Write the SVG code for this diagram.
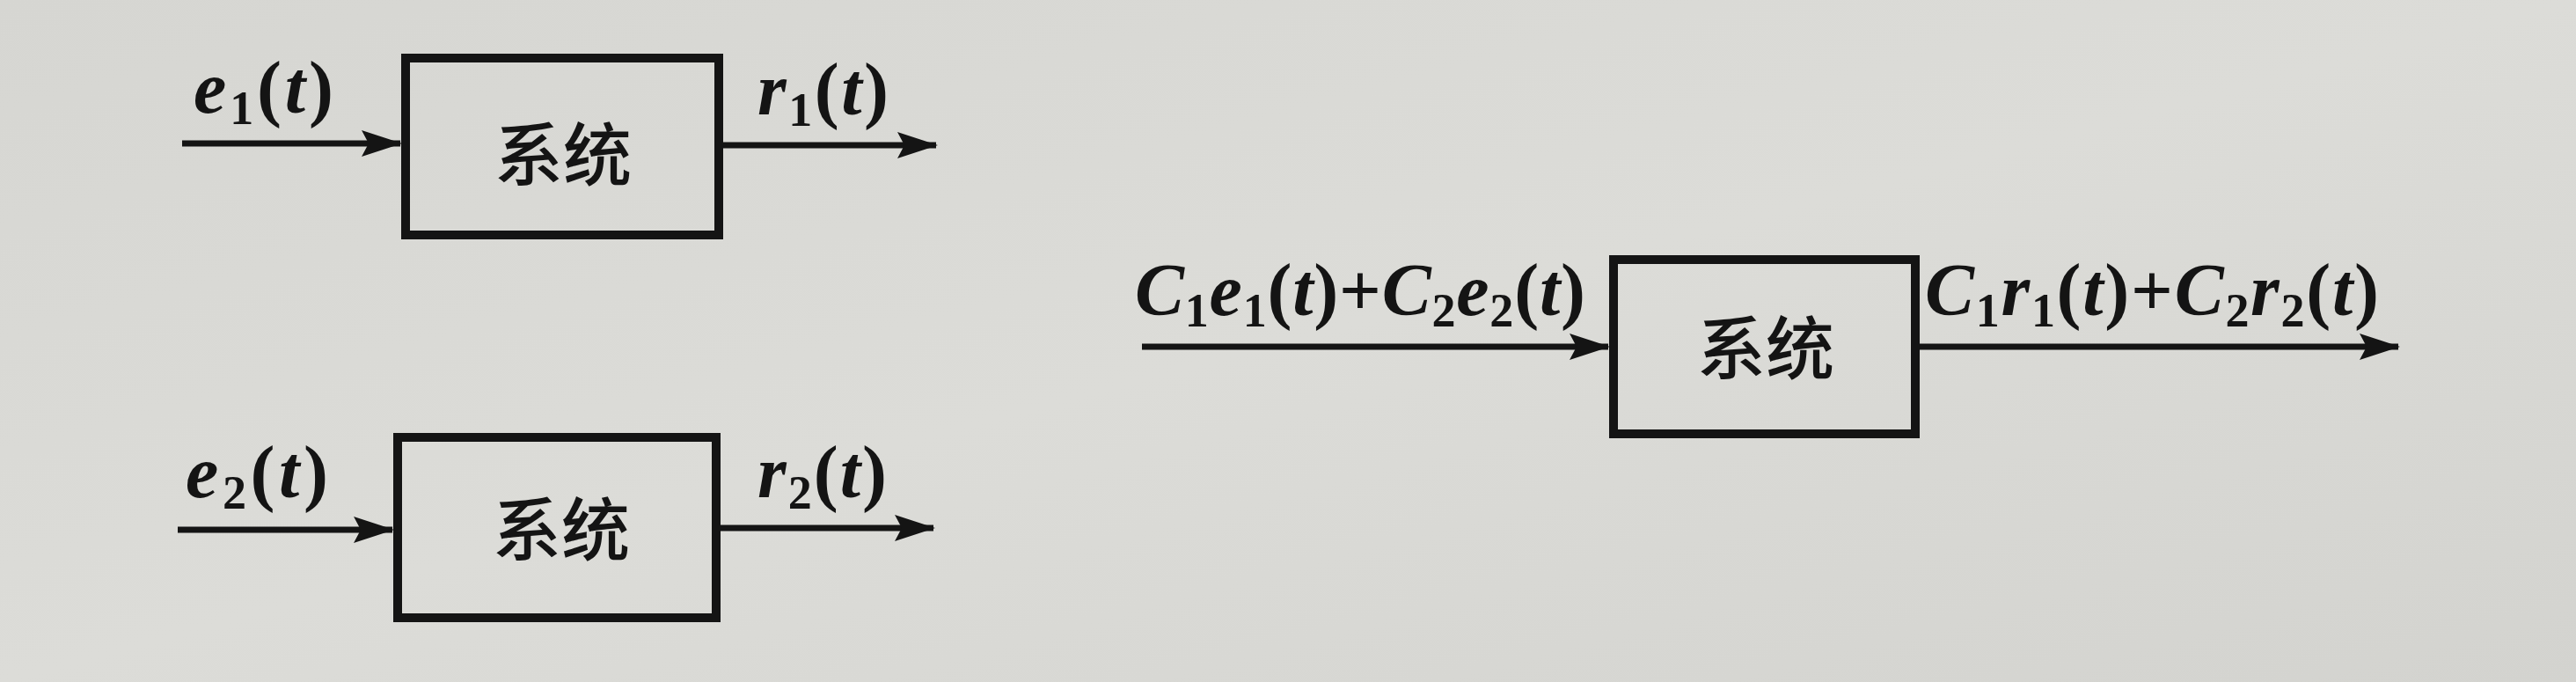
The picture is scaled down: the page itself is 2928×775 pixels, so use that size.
<svg xmlns="http://www.w3.org/2000/svg" width="2928" height="775" viewBox="0 0 2928 775">
<style>
.box{fill:none;stroke:#141414;stroke-width:10}
.wire{stroke:#141414;stroke-width:7;fill:none}
.lbl{font-family:"Liberation Serif","Times New Roman",serif;font-size:84px;font-weight:bold;fill:#141414}
.it{font-style:italic}
.sub{font-size:54px}
.cn{font-family:"Noto Sans CJK SC","Noto Sans",sans-serif;font-size:78px;font-weight:500;fill:#141414;text-anchor:middle}
</style>
<defs>
<marker id="ah" markerUnits="userSpaceOnUse" markerWidth="46" markerHeight="30" refX="44" refY="15" orient="auto">
<path d="M0,0 L46,15 L0,30 L8,15 Z" fill="#141414"/>
</marker>
<linearGradient id="bg" x1="0" y1="0" x2="1" y2="1">
<stop offset="0" stop-color="#d6d6d2"/>
<stop offset="0.5" stop-color="#dcdcd8"/>
<stop offset="1" stop-color="#d3d3cf"/>
</linearGradient>
</defs>
<rect width="2928" height="775" fill="url(#bg)"/>
<g id="connectors">
<line class="wire" x1="207" y1="163" x2="455" y2="163" marker-end="url(#ah)"/>
<line class="wire" x1="822" y1="165" x2="1064" y2="165" marker-end="url(#ah)"/>
<line class="wire" x1="202" y1="602" x2="446" y2="602" marker-end="url(#ah)"/>
<line class="wire" x1="818" y1="600" x2="1061" y2="600" marker-end="url(#ah)"/>
<line class="wire" x1="1298" y1="394" x2="1828" y2="394" marker-end="url(#ah)"/>
<line class="wire" x1="2181" y1="394" x2="2726" y2="394" marker-end="url(#ah)"/>
</g>
<g id="labels">
<text class="lbl" x="220" y="128" textLength="159" lengthAdjust="spacing"><tspan class="it">e</tspan><tspan class="sub" dy="13">1</tspan><tspan dy="-13">(</tspan><tspan class="it">t</tspan>)</text>
<text class="lbl" x="861" y="130" textLength="149" lengthAdjust="spacing"><tspan class="it">r</tspan><tspan class="sub" dy="13">1</tspan><tspan dy="-13">(</tspan><tspan class="it">t</tspan>)</text>
<text class="lbl" x="211" y="565" textLength="162" lengthAdjust="spacing"><tspan class="it">e</tspan><tspan class="sub" dy="13">2</tspan><tspan dy="-13">(</tspan><tspan class="it">t</tspan>)</text>
<text class="lbl" x="861" y="565" textLength="147" lengthAdjust="spacing"><tspan class="it">r</tspan><tspan class="sub" dy="13">2</tspan><tspan dy="-13">(</tspan><tspan class="it">t</tspan>)</text>
<text class="lbl" x="1290" y="358" textLength="512" lengthAdjust="spacing"><tspan class="it">C</tspan><tspan class="sub" dy="13">1</tspan><tspan class="it" dy="-13">e</tspan><tspan class="sub" dy="13">1</tspan><tspan dy="-13">(</tspan><tspan class="it">t</tspan>)+<tspan class="it">C</tspan><tspan class="sub" dy="13">2</tspan><tspan class="it" dy="-13">e</tspan><tspan class="sub" dy="13">2</tspan><tspan dy="-13">(</tspan><tspan class="it">t</tspan>)</text>
<text class="lbl" x="2188" y="358" textLength="516" lengthAdjust="spacing"><tspan class="it">C</tspan><tspan class="sub" dy="13">1</tspan><tspan class="it" dy="-13">r</tspan><tspan class="sub" dy="13">1</tspan><tspan dy="-13">(</tspan><tspan class="it">t</tspan>)+<tspan class="it">C</tspan><tspan class="sub" dy="13">2</tspan><tspan class="it" dy="-13">r</tspan><tspan class="sub" dy="13">2</tspan><tspan dy="-13">(</tspan><tspan class="it">t</tspan>)</text>
</g>
<g id="sys1">
<rect class="box" x="461" y="66" width="356" height="201"/>
<text class="cn" x="640" y="205">系统</text>
</g>
<g id="sys2">
<rect class="box" x="452" y="497" width="362" height="205"/>
<text class="cn" x="638" y="631">系统</text>
</g>
<g id="sys3">
<rect class="box" x="1834" y="295" width="343" height="198"/>
<text class="cn" x="2007" y="425">系统</text>
</g>
</svg>
